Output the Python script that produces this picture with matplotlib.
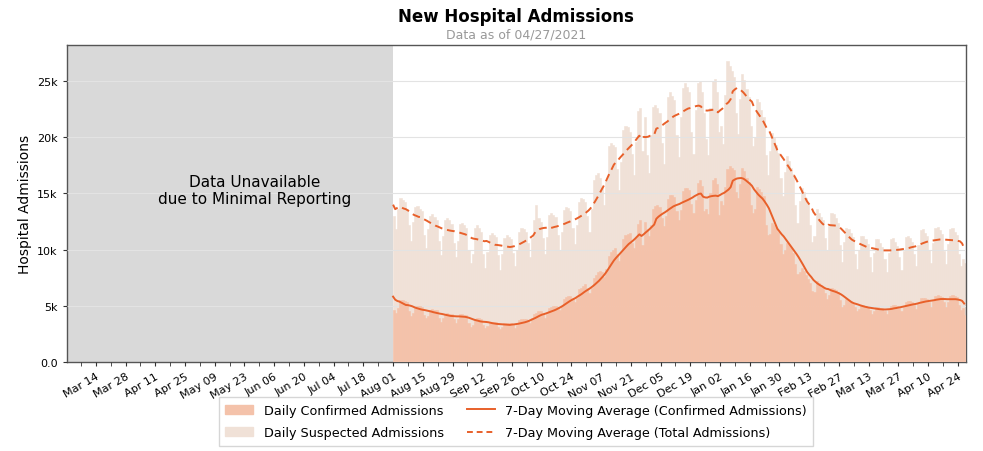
import numpy as np
import pandas as pd
import matplotlib
matplotlib.use("Agg")
import matplotlib.pyplot as plt
import matplotlib.dates as mdates
from matplotlib.ticker import FixedLocator
from matplotlib.patches import Patch
from matplotlib.lines import Line2D

# Daily admissions in thousands. Jul 26 - Jul 31 only feed the moving average.
pre_confirmed = [6.3, 5.6, 5.9, 6.2, 6.1, 6.0]
pre_total = [14.6, 12.8, 13.9, 14.9, 14.8, 14.0]

# Aug 01 2020 - Apr 27 2021, one row per week (Sat..Fri)
confirmed = [
    4.6, 4.4, 4.8, 5.5, 5.5, 5.4, 5.3,
    4.5, 4.1, 4.4, 4.9, 5.0, 5.0, 4.9,
    4.2, 3.9, 4.1, 4.6, 4.7, 4.6, 4.6,
    3.9, 3.6, 3.9, 4.3, 4.4, 4.3, 4.3,
    3.8, 3.5, 3.8, 4.3, 4.3, 4.2, 4.2,
    3.5, 3.1, 3.3, 3.8, 3.9, 3.9, 3.8,
    3.3, 3.0, 3.2, 3.6, 3.6, 3.6, 3.6,
    3.1, 2.9, 3.1, 3.5, 3.5, 3.5, 3.5,
    3.3, 3.0, 3.3, 3.7, 3.8, 3.8, 3.8,
    3.7, 3.5, 3.9, 4.3, 4.4, 4.5, 4.5,
    4.3, 3.9, 4.3, 4.8, 4.9, 5.0, 5.0,
    4.9, 4.6, 5.0, 5.6, 5.8, 5.9, 5.9,
    5.7, 5.3, 5.7, 6.5, 6.6, 6.8, 6.9,
    6.6, 6.1, 6.6, 7.5, 7.7, 8.0, 8.1,
    8.0, 7.6, 8.3, 9.4, 9.8, 10.0, 10.1,
    9.6, 9.0, 9.8, 10.9, 11.3, 11.4, 11.5,
    10.6, 10.1, 11.0, 12.3, 12.6, 10.4, 12.5,
    11.8, 11.2, 12.2, 13.6, 13.9, 14.0, 13.8,
    12.8, 12.1, 13.0, 14.5, 14.9, 14.9, 14.7,
    13.4, 12.6, 13.5, 15.2, 15.5, 15.5, 15.3,
    14.1, 13.3, 14.4, 15.9, 16.2, 15.7, 13.4,
    13.6, 13.2, 15.0, 16.2, 16.4, 15.8, 13.1,
    14.3, 14.0, 15.6, 17.2, 17.4, 17.3, 17.1,
    15.1, 14.6, 15.8, 17.3, 17.0, 16.4, 16.0,
    14.0, 13.3, 13.6, 15.6, 15.4, 15.1, 14.8,
    12.2, 11.3, 11.4, 12.4, 12.2, 11.9, 11.6,
    10.5, 9.6, 10.0, 10.6, 10.4, 10.1, 9.7,
    8.7, 7.8, 8.0, 8.4, 8.1, 7.7, 7.4,
    7.0, 6.3, 6.2, 7.2, 7.0, 6.8, 6.7,
    6.1, 5.6, 6.0, 6.6, 6.5, 6.4, 6.2,
    5.5, 4.9, 5.1, 5.6, 5.5, 5.4, 5.2,
    4.9, 4.5, 4.7, 5.1, 5.1, 5.0, 4.9,
    4.6, 4.3, 4.5, 4.9, 4.9, 4.8, 4.8,
    4.5, 4.3, 4.6, 5.0, 5.1, 5.1, 5.0,
    4.8, 4.5, 4.9, 5.3, 5.4, 5.4, 5.3,
    5.1, 4.7, 5.2, 5.7, 5.7, 5.7, 5.6,
    5.3, 4.9, 5.4, 5.9, 6.0, 5.9, 5.8,
    5.3, 4.9, 5.3, 5.9, 6.0, 5.9, 5.8,
    5.1, 4.6, 4.8, 4.2,
]

total = [
    13.0, 11.8, 13.6, 14.6, 14.4, 14.2, 13.6,
    12.2, 10.8, 12.5, 13.8, 13.9, 13.6, 13.4,
    11.3, 10.1, 11.8, 13.0, 13.2, 12.9, 12.6,
    10.8, 9.5, 11.2, 12.6, 12.8, 12.6, 12.3,
    10.6, 9.3, 10.8, 12.3, 12.4, 12.2, 11.9,
    10.0, 8.8, 9.6, 11.9, 12.2, 11.9, 11.6,
    9.6, 8.4, 9.8, 11.3, 11.5, 11.3, 11.1,
    9.5, 8.2, 9.6, 11.0, 11.3, 11.1, 10.9,
    9.7, 8.5, 10.0, 11.6, 11.9, 11.8, 11.6,
    10.6, 9.3, 11.0, 12.6, 14.0, 12.8, 12.5,
    11.0, 9.6, 11.1, 13.1, 13.3, 13.1, 12.9,
    11.3, 10.0, 11.6, 13.5, 13.8, 13.7, 13.4,
    11.9, 10.5, 12.2, 14.2, 14.6, 14.5, 14.2,
    13.0, 11.6, 13.6, 16.2, 16.6, 16.8, 16.4,
    15.6, 14.0, 16.2, 19.2, 19.5, 19.3, 19.1,
    17.2, 15.3, 17.8, 20.6, 21.0, 20.9, 20.5,
    18.5, 16.6, 19.6, 22.3, 22.6, 18.8, 21.8,
    18.4, 16.8, 20.2, 22.7, 22.9, 22.6, 22.2,
    19.5, 17.6, 21.2, 23.6, 24.0, 23.7, 23.3,
    20.2, 18.2, 21.8, 24.4, 24.8, 24.5, 24.0,
    20.5, 18.5, 22.4, 24.8, 25.0, 24.0, 22.2,
    19.8, 18.4, 22.6, 25.0, 25.2, 24.0, 20.5,
    21.0, 19.4, 23.8, 26.8, 26.3, 25.9, 25.4,
    22.2, 20.3, 23.4, 25.6, 25.1, 24.3, 23.6,
    21.0, 19.2, 20.0, 23.4, 23.1, 22.4, 21.8,
    18.4, 16.6, 18.8, 20.4, 19.9, 19.3, 18.6,
    16.4, 14.8, 16.9, 18.3, 17.9, 17.3, 16.7,
    14.0, 12.4, 14.3, 15.5, 15.1, 14.6, 14.1,
    12.2, 10.7, 11.2, 13.6, 13.3, 12.9, 12.6,
    11.0, 10.0, 12.1, 13.3, 13.2, 12.8, 12.4,
    10.4, 8.9, 10.7, 11.9, 11.8, 11.5, 11.1,
    9.6, 8.3, 10.0, 11.2, 11.2, 10.9, 10.5,
    9.3, 8.0, 9.7, 10.9, 10.9, 10.6, 10.2,
    9.2, 8.0, 9.7, 10.9, 11.0, 10.7, 10.3,
    9.3, 8.2, 9.9, 11.1, 11.2, 11.0, 10.7,
    9.6, 8.5, 10.4, 11.7, 11.8, 11.5, 11.2,
    10.0, 8.8, 10.6, 11.9, 12.0, 11.7, 11.4,
    9.9, 8.7, 10.5, 11.8, 11.9, 11.6, 11.3,
    9.6, 8.5, 9.2, 8.8,
]

start_date = "2020-08-01"
no_data_start = "2020-02-29 08:00"
end_date = "2021-04-28"

dates = pd.date_range(start_date, periods=len(total), freq="D")
n_pre = len(pre_total)

# 7-day moving averages
conf_ma = pd.Series(pre_confirmed + confirmed).rolling(7, min_periods=1).mean().values[n_pre:]
tot_ma = pd.Series(pre_total + total).rolling(7, min_periods=1).mean().values[n_pre:]

c_conf = "#f4c2aa"
c_susp = "#f0e1d7"
c_line = "#e8602a"

fig = plt.figure(figsize=(9.83, 4.52), dpi=100)
ax = fig.add_axes([0.068, 0.197, 0.915, 0.701])

ax.axvspan(pd.Timestamp(no_data_start), pd.Timestamp(start_date), color="#d9d9d9", zorder=0, lw=0)
ax.text(pd.Timestamp("2020-05-28"), 15.3, "Data Unavailable\ndue to Minimal Reporting",
        ha="center", va="center", fontsize=11, linespacing=1.1, zorder=5)

ax.bar(dates, total, width=1, align="edge", color=c_susp, edgecolor=c_susp, linewidth=0.4, zorder=2)
ax.bar(dates, confirmed, width=1, align="edge", color=c_conf, edgecolor=c_conf, linewidth=0.4, zorder=3)
ax.plot(dates, conf_ma, color=c_line, lw=1.4, zorder=4)
ax.plot(dates, tot_ma, color=c_line, lw=1.4, ls=(0, (4, 2.5)), zorder=4)

ax.set_xlim(pd.Timestamp(no_data_start), pd.Timestamp(end_date))
ax.set_ylim(0, 28.2)
ax.set_yticks([0, 5, 10, 15, 20, 25])
ax.yaxis.set_major_formatter(lambda v, p: "0.0" if v == 0 else f"{v:g}k")
ax.grid(axis="y", color="#e3e3e3", lw=0.8, zorder=1)
ax.set_axisbelow(False)

# weekly ticks on Saturdays, labels every other week
major = pd.date_range("2020-03-14", "2021-04-24", freq="14D")
minor = pd.date_range("2020-03-07", "2021-04-24", freq="7D")
ax.xaxis.set_major_locator(FixedLocator(mdates.date2num(major)))
ax.xaxis.set_minor_locator(FixedLocator(mdates.date2num(minor)))
ax.xaxis.set_major_formatter(mdates.DateFormatter("%b %d"))
plt.setp(ax.get_xticklabels(), rotation=30, ha="right", rotation_mode="anchor")
ax.tick_params(axis="x", which="both", length=3, color="#333333", labelsize=8)
ax.tick_params(axis="y", length=3, color="#333333", labelsize=8)

for s in ax.spines.values():
    s.set_color("#555555")
    s.set_linewidth(1.0)

ax.set_ylabel("Hospital Admissions", fontsize=10)

fig.text(0.525, 0.963, "New Hospital Admissions", ha="center", va="center",
         fontsize=12, fontweight="bold")
fig.text(0.525, 0.922, "Data as of 04/27/2021", ha="center", va="center",
         fontsize=9, color="#999999")

handles = [
    Patch(color=c_conf, label="Daily Confirmed Admissions"),
    Patch(color=c_susp, label="Daily Suspected Admissions"),
    Line2D([], [], color=c_line, lw=1.4, label="7-Day Moving Average (Confirmed Admissions)"),
    Line2D([], [], color=c_line, lw=1.4, ls=(0, (3, 2)), label="7-Day Moving Average (Total Admissions)"),
]
fig.legend(handles=handles, loc="upper center", bbox_to_anchor=(0.525, 0.133), ncol=2,
           fontsize=9.2, frameon=True, edgecolor="#cccccc", fancybox=False,
           handlelength=2.2, columnspacing=1.8, borderpad=0.5, labelspacing=0.75)

fig.savefig("out.png", dpi=100)
